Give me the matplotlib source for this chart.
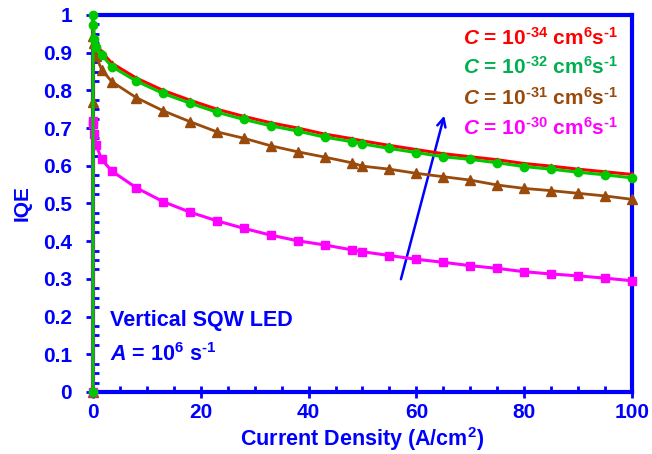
import matplotlib.pyplot as plt
from matplotlib.ticker import MultipleLocator

plt.rcParams['font.family'] = ['Liberation Sans', 'DejaVu Sans']
plt.rcParams['font.weight'] = 'bold'

# current density (A/cm2)
J = [0, 0.01, 0.05, 0.2, 0.6, 1.6, 3.5, 8, 13, 18, 23, 28, 33, 38, 43, 48,
     50, 55, 60, 65, 70, 75, 80, 85, 90, 95, 100]

# IQE for each Auger coefficient
iqe_c34 = [0, 1.0, 0.98, 0.945, 0.925, 0.902, 0.872, 0.833, 0.800, 0.774, 0.750,
           0.731, 0.714, 0.700, 0.684, 0.672, 0.666, 0.654, 0.643, 0.632, 0.624,
           0.616, 0.606, 0.599, 0.591, 0.584, 0.577]
iqe_c32 = [0, 1.0, 0.973, 0.936, 0.916, 0.894, 0.863, 0.825, 0.792, 0.766, 0.742,
           0.723, 0.706, 0.692, 0.676, 0.664, 0.658, 0.646, 0.635, 0.624, 0.617,
           0.608, 0.598, 0.591, 0.583, 0.576, 0.568]
iqe_c31 = [0, 0.77, 0.945, 0.925, 0.89, 0.855, 0.823, 0.781, 0.746, 0.717, 0.690,
           0.673, 0.653, 0.637, 0.623, 0.608, 0.599, 0.591, 0.580, 0.571, 0.562,
           0.549, 0.540, 0.534, 0.527, 0.520, 0.511]
iqe_c30 = [0, 0.72, 0.71, 0.685, 0.655, 0.617, 0.586, 0.542, 0.505, 0.477, 0.454,
           0.434, 0.416, 0.401, 0.390, 0.377, 0.372, 0.362, 0.352, 0.344, 0.335,
           0.328, 0.319, 0.313, 0.308, 0.302, 0.295]

exponents = ['-34', '-32', '-31', '-30']

blue = '#0000FF'
red = '#FF0000'
green = '#00C800'
brown = '#9A4A0A'
magenta = '#FF00FF'

plt.rcParams['mathtext.fontset'] = 'custom'
plt.rcParams['mathtext.rm'] = 'Liberation Sans:bold'
plt.rcParams['mathtext.bf'] = 'Liberation Sans:bold'
plt.rcParams['mathtext.it'] = 'Liberation Sans:bold:italic'
plt.rcParams['mathtext.bfit'] = 'Liberation Sans:bold:italic'

fig = plt.figure(figsize=(6.52, 4.54), dpi=100)
ax = fig.add_axes([0.1426, 0.1366, 0.8267, 0.8304])

ax.plot(J, iqe_c34, color=red, lw=2.2, marker='^', ms=3.5, clip_on=False, zorder=5)
ax.plot(J, iqe_c32, color=green, lw=2.2, marker='o', ms=6, clip_on=False, zorder=6)
ax.plot(J, iqe_c31, color=brown, lw=2.0, marker='^', ms=7, clip_on=False, zorder=5)
ax.plot(J, iqe_c30, color=magenta, lw=2.2, marker='s', ms=6, clip_on=False, zorder=5)

ax.set_xlim(0, 100)
ax.set_ylim(0, 1)

for s in ax.spines.values():
    s.set_color(blue)
    s.set_linewidth(3)

ax.xaxis.set_major_locator(MultipleLocator(20))
ax.xaxis.set_minor_locator(MultipleLocator(5))
ax.yaxis.set_major_locator(MultipleLocator(0.1))
ax.yaxis.set_minor_locator(MultipleLocator(0.025))
ax.tick_params(axis='x', which='major', direction='inout', length=8, width=2,
               color=blue, labelcolor=blue, labelsize=15, pad=4)
ax.tick_params(axis='x', which='minor', direction='in', length=4, width=2, color=blue)
ax.tick_params(axis='y', which='major', direction='out', length=5, width=2,
               color=blue, labelcolor=blue, labelsize=15, pad=10)
ax.tick_params(axis='y', which='minor', direction='in', length=4, width=2, color=blue)
ax.set_yticks([0, 0.1, 0.2, 0.3, 0.4, 0.5, 0.6, 0.7, 0.8, 0.9, 1.0])
ax.set_yticklabels(['0', '0.1', '0.2', '0.3', '0.4', '0.5', '0.6', '0.7', '0.8', '0.9', '1'])

ax.set_xlabel(r'Current Density (A/cm$^{\mathbf{2}}$)', color=blue, fontsize=15.5,
              fontweight='bold', labelpad=2)
ax.set_ylabel('IQE', color=blue, fontsize=15, fontweight='bold', labelpad=8)

for ex, col, yy in zip(exponents, [red, '#00B050', brown, magenta],
                       [0.94, 0.862, 0.78, 0.70]):
    lab = (r'$\mathbfit{C}$ = 10$^{\text{' + ex + r'}}$ cm$^{\mathbf{6}}$s$^{\text{-1}}$')
    ax.text(97.5, yy, lab, color=col, fontsize=15, ha='right', va='center')

ax.text(3.2, 0.19, 'Vertical SQW LED', color=blue, fontsize=15.5, va='center')
ax.text(3.2, 0.098, r'$\mathbfit{A}$ = 10$^{\mathbf{6}}$ s$^{\text{-1}}$',
        color=blue, fontsize=15.5, va='center')

ax.annotate('', xy=(65.3, 0.74), xytext=(57, 0.292),
            arrowprops=dict(arrowstyle='->', color=blue, lw=1.8,
                            mutation_scale=15))

fig.savefig('out.png', dpi=100)
